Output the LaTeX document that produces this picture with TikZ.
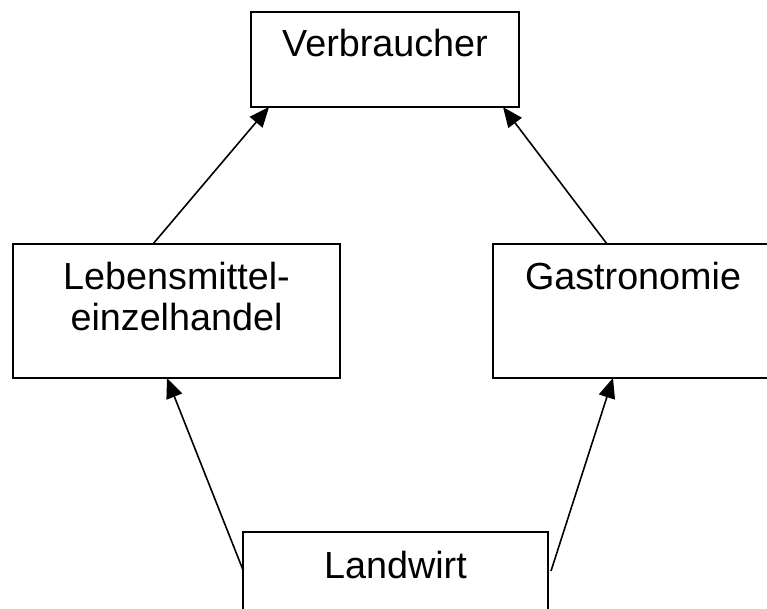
\documentclass[tikz,border=0pt]{standalone}
\usepackage{fontspec}
\setmainfont{Liberation Sans}
\usetikzlibrary{arrows.meta,calc}
\begin{document}
\begin{tikzpicture}[x=0.75pt,y=-0.75pt,
  box/.style={draw,line width=1.3pt,inner sep=0pt,outer sep=0pt},
  lbl/.style={inner sep=0pt,anchor=base,align=center,font=\fontsize{28.3}{30}\selectfont},
  arr/.style={line width=1.2pt,-{Triangle[length=15pt,width=12.5pt]}}]
  % page area
  \clip (0,0) rectangle (767,609);
  \fill[white] (0,0) rectangle (767,609);
  \useasboundingbox (0,0) rectangle (767,609);

  % boxes
  \node[box,minimum width=201pt,minimum height=71.25pt] (verb) at (385,59.5) {};
  \node[box,minimum width=245.25pt,minimum height=100.5pt] (leh) at (176.5,311) {};
  \node[box,minimum width=210pt,minimum height=100.5pt] (gas) at (633,311) {};
  \node[box,minimum width=228.75pt,minimum height=71.25pt] (land) at (395.5,579.5) {};

  % labels (base anchor sits on the last line)
  \node[lbl] (verbT) at (385,57) {Verbraucher};
  \node[lbl] (lehT) at (176.5,330) {Lebensmittel-\\einzelhandel};
  \node[lbl] (gasT) at (633,290) {Gastronomie};
  \node[lbl] (landT) at (395.5,578) {Landwirt};

  % flows
  \draw[arr] ($(leh.north west)+(140,0)$) -- ($(verb.south west)+(18,0)$);
  \draw[arr] ($(gas.north west)+(114,0)$) -- ($(verb.south east)+(-16,0)$);
  \draw[arr] ($(land.north west)+(0,38)$) -- ($(leh.south west)+(154,0)$);
  \draw[arr] ($(land.north east)+(3,39)$) -- ($(gas.south west)+(120,0)$);
\end{tikzpicture}
\end{document}
